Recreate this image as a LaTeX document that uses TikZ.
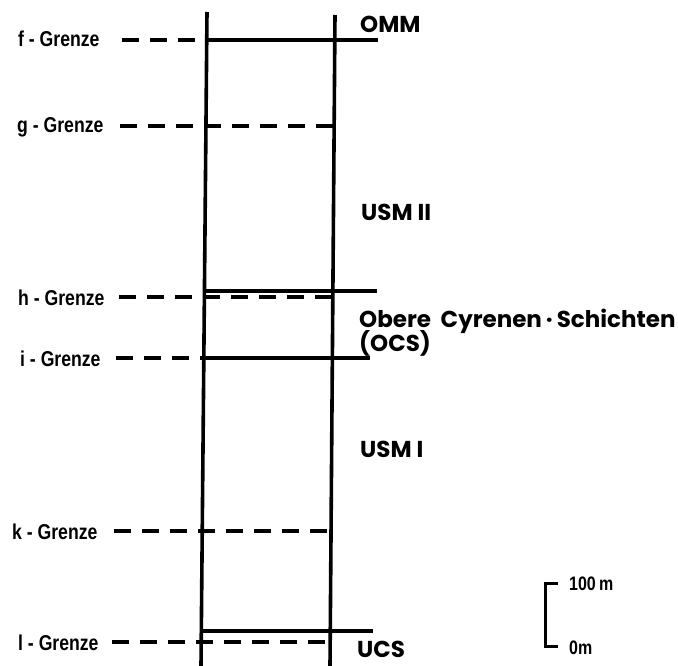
\documentclass[tikz,border=0pt]{standalone}
\usepackage{fontspec}
\setmainfont{Liberation Sans}
\newfontfamily\labfont[FakeStretch=0.82]{Liberation Sans}
\newfontfamily\stratfont{Poppins}
\begin{document}
\begin{tikzpicture}[x=1pt,y=-1pt,
  col/.style={line width=3.6pt},
  solidline/.style={line width=3.2pt},
  dashline/.style={line width=3.2pt,dash pattern=on 17pt off 11pt},
  grenze/.style={anchor=base west,inner sep=0pt,font=\labfont\bfseries\fontsize{21.5}{24}\selectfont},
  strat/.style={anchor=base west,inner sep=0pt,font=\stratfont\bfseries\fontsize{23}{26}\selectfont},
  scalelab/.style={anchor=base west,inner sep=0pt,font=\labfont\bfseries\fontsize{19.5}{22}\selectfont}]
\useasboundingbox (0,0) rectangle (678,666);
% columns
\coordinate (LT) at (207,12);
\coordinate (LB) at (201,666);
\coordinate (RT) at (335,15);
\coordinate (RB) at (330,666);
\draw[col] (LT) -- (LB);
\draw[col] (RT) -- (RB);
% f
\coordinate (f0) at (122,40); \coordinate (f1) at (206.7,40); \coordinate (f2) at (378,40);
\draw[dashline] (f0) -- (f1);
\draw[solidline] (f1) -- (f2);
% g
\coordinate (g0) at (120,126); \coordinate (g1) at (334.1,126);
\draw[dashline] (g0) -- (g1);
% h
\coordinate (h0) at (204.4,291); \coordinate (h1) at (377,291);
\coordinate (h2) at (119,297); \coordinate (h3) at (332.8,297);
\draw[solidline] (h0) -- (h1);
\draw[dashline] (h2) -- (h3);
% i
\coordinate (i0) at (116,358); \coordinate (i1) at (203.8,358); \coordinate (i2) at (370,358);
\draw[dashline] (i0) -- (i1);
\draw[solidline] (i1) -- (i2);
% k
\coordinate (k0) at (114,531); \coordinate (k1) at (331,531);
\draw[dashline] (k0) -- (k1);
% l
\coordinate (l0) at (201.3,631); \coordinate (l1) at (373,631);
\coordinate (l2) at (112,642); \coordinate (l3) at (330.2,642);
\draw[solidline] (l0) -- (l1);
\draw[dashline] (l2) -- (l3);
% left labels
\node[grenze] (fL) at (18,47) {f - Grenze};
\node[grenze] (gL) at (17,133) {g - Grenze};
\node[grenze] (hL) at (18,305) {h - Grenze};
\node[grenze] (iL) at (20,366) {i - Grenze};
\node[grenze] (kL) at (12,539) {k - Grenze};
\node[grenze] (lL) at (18,650) {l - Grenze};
% right labels
\node[strat] (omm) at (360,33) {OMM};
\node[strat] (usm2) at (361,221) {USM II};
\node[strat] (ocs1) at (359,327) {Obere\hspace{0.42em}Cyrenen\hspace{4pt}·\hspace{4pt}Schichten};
\node[strat] (ocs2) at (359,351) {(OCS)};
\node[strat] (usm1) at (360,457) {USM I};
\node[strat] (ucs) at (357,657) {UCS};
% scale bar
\coordinate (s0) at (558,583); \coordinate (s1) at (545,583);
\coordinate (s2) at (545,646); \coordinate (s3) at (558,646);
\draw[line width=3pt] (s0) -- (s1) -- (s2) -- (s3);
\node[scalelab] (s100) at (569,590) {100\,m};
\node[scalelab] (s0m) at (569,654) {0m};
\end{tikzpicture}
\end{document}
